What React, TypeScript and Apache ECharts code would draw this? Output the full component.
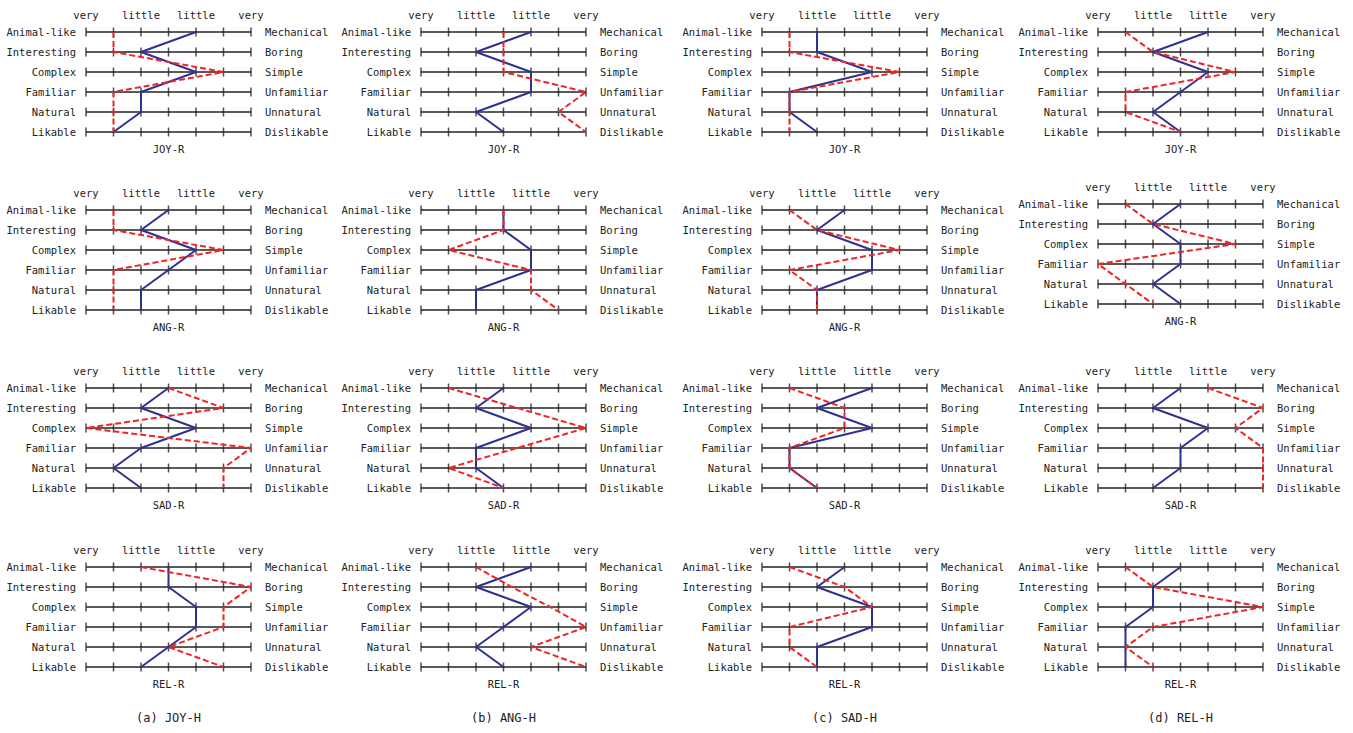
import React, { useEffect, useRef } from "react";
import * as echarts from "echarts";

// ---- data ----
const leftLabels = ["Animal-like", "Interesting", "Complex", "Familiar", "Natural", "Likable"];
const rightLabels = ["Mechanical", "Boring", "Simple", "Unfamiliar", "Unnatural", "Dislikable"];
const scaleTicks = [1, 2, 3, 4, 5, 6, 7];
const scaleLabels = ["very", "", "little", "", "little", "", "very"];
const humanConditions = ["(a) JOY-H", "(b) ANG-H", "(c) SAD-H", "(d) REL-H"];
const robotConditions = ["JOY-R", "ANG-R", "SAD-R", "REL-R"];

// blue (solid) and red (dashed) profiles, per column (human) -> per row (robot)
const joyHBlue = [
  [5, 3, 5, 3, 3, 2],
  [4, 3, 5, 4, 3, 3],
  [4, 3, 5, 3, 2, 3],
  [4, 4, 5, 5, 4, 3],
];
const joyHRed = [
  [2, 2, 6, 2, 2, 2],
  [2, 2, 6, 2, 2, 2],
  [4, 6, 1, 7, 6, 6],
  [3, 7, 6, 6, 4, 6],
];
const angHBlue = [
  [5, 3, 5, 5, 3, 4],
  [4, 4, 5, 5, 3, 3],
  [4, 3, 5, 3, 3, 4],
  [5, 3, 5, 4, 3, 4],
];
const angHRed = [
  [4, 4, 4, 7, 6, 7],
  [4, 4, 2, 5, 5, 6],
  [2, 4.5, 7, 4.5, 2, 4],
  [3, 4.3, 5.7, 7, 5, 7],
];
const sadHBlue = [
  [3, 3, 5, 2, 2, 3],
  [4, 3, 5, 5, 3, 3],
  [5, 3, 5, 2, 2, 3],
  [4, 3, 5, 5, 3, 3],
];
const sadHRed = [
  [2, 2, 6, 2, 2, 2],
  [2, 3, 6, 2, 3, 3],
  [2, 4, 4, 2, 2, 3],
  [2, 4, 5, 2, 2, 3],
];
const relHBlue = [
  [5, 3, 5, 4, 3, 4],
  [4, 3, 4, 4, 3, 4],
  [4, 3, 5, 4, 4, 3],
  [4, 3, 3, 2, 2, 2],
];
const relHRed = [
  [2, 3, 6, 2, 2, 4],
  [2, 3, 6, 1, 2, 3],
  [5, 7, 6, 7, 7, 7],
  [2, 3, 7, 3, 2, 3],
];

const blueByColumn = [joyHBlue, angHBlue, sadHBlue, relHBlue];
const redByColumn = [joyHRed, angHRed, sadHRed, relHRed];

// ---- layout ----
const colLeft = [86, 421, 762, 1098];
const plotWidth = 165;
const plotHeight = 100;
const rowTop = [
  [32, 210, 388, 567],
  [32, 210, 388, 567],
  [32, 210, 388, 567],
  [32, 204, 388, 567],
];
const FONT = "'DejaVu Sans Mono', 'Liberation Mono', monospace";
const TEXT = "#222";
const BLUE = "#2e3192";
const RED = "#f02424";
const FS = 10.5;

export default function App() {
  const ref = useRef<HTMLDivElement>(null);

  useEffect(() => {
    if (!ref.current) return;
    const chart = echarts.init(ref.current, undefined, { renderer: "svg" });

    const grid: any[] = [];
    const xAxis: any[] = [];
    const yAxis: any[] = [];
    const series: any[] = [];
    const graphic: any[] = [];

    for (let c = 0; c < 4; c++) {
      for (let r = 0; r < 4; r++) {
        const gi = grid.length;
        const top = rowTop[c][r];
        grid.push({ left: colLeft[c], top, width: plotWidth, height: plotHeight });
        xAxis.push({
          gridIndex: gi,
          type: "value",
          min: 1,
          max: 7,
          interval: 1,
          position: "top",
          axisLine: { show: false },
          axisTick: { show: false },
          splitLine: { show: false },
          axisLabel: {
            margin: 12,
            fontFamily: FONT,
            fontSize: FS,
            color: TEXT,
            formatter: (v: number) => scaleLabels[scaleTicks.indexOf(v)] || "",
          },
        });
        const yl = yAxis.length;
        yAxis.push({
          gridIndex: gi,
          type: "category",
          data: leftLabels,
          inverse: true,
          boundaryGap: false,
          position: "left",
          axisLine: { show: false },
          axisTick: { show: false },
          splitLine: { show: true, lineStyle: { color: "#222", width: 1.5 } },
          axisLabel: { margin: 10, fontFamily: FONT, fontSize: FS, color: TEXT },
        });
        yAxis.push({
          gridIndex: gi,
          type: "category",
          data: rightLabels,
          inverse: true,
          boundaryGap: false,
          position: "right",
          axisLine: { show: false },
          axisTick: { show: false },
          splitLine: { show: false },
          axisLabel: { margin: 14, fontFamily: FONT, fontSize: FS, color: TEXT },
        });

        const tickData: number[][] = [];
        leftLabels.forEach((_, ri) => scaleTicks.forEach((t) => tickData.push([t, ri])));
        series.push({
          type: "scatter",
          xAxisIndex: gi,
          yAxisIndex: yl,
          data: tickData,
          symbol: "rect",
          symbolSize: [1.5, 9],
          itemStyle: { color: "#222" },
          silent: true,
          z: 1,
        });
        series.push({
          type: "line",
          xAxisIndex: gi,
          yAxisIndex: yl,
          data: blueByColumn[c][r].map((v, ri) => [v, ri]),
          showSymbol: false,
          symbol: "none",
          lineStyle: { color: BLUE, width: 2 },
          z: 3,
        });
        series.push({
          type: "line",
          xAxisIndex: gi,
          yAxisIndex: yl,
          data: redByColumn[c][r].map((v, ri) => [v, ri]),
          showSymbol: false,
          symbol: "none",
          lineStyle: { color: RED, width: 2, type: [6, 3] },
          z: 4,
        });

        graphic.push({
          type: "text",
          x: colLeft[c] + plotWidth / 2,
          y: top + plotHeight + 17,
          style: {
            text: robotConditions[r],
            align: "center",
            verticalAlign: "middle",
            fontSize: FS,
            fontFamily: FONT,
            fill: TEXT,
          },
        });
      }
      graphic.push({
        type: "text",
        x: colLeft[c] + plotWidth / 2,
        y: 718,
        style: {
          text: humanConditions[c],
          align: "center",
          verticalAlign: "middle",
          fontSize: 12,
          fontFamily: FONT,
          fill: TEXT,
        },
      });
    }

    chart.setOption({
      animation: false,
      backgroundColor: "#fff",
      grid,
      xAxis,
      yAxis,
      series,
      graphic,
    });

    return () => chart.dispose();
  }, []);

  return (
    <div
      ref={ref}
      style={{ position: "absolute", left: 0, top: 0, width: 1353, height: 733 }}
    />
  );
}
